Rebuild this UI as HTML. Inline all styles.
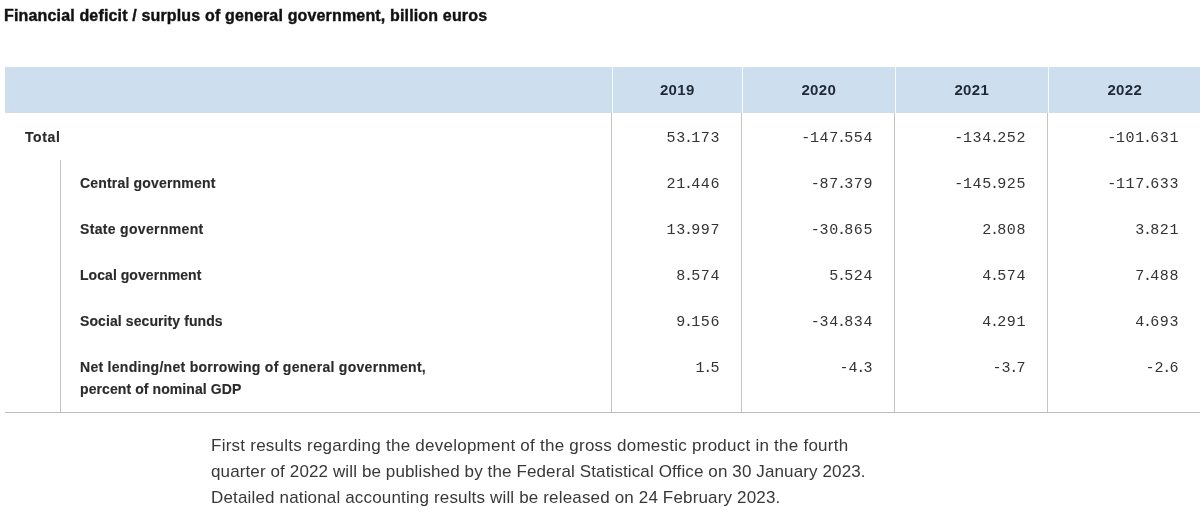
<!DOCTYPE html>
<html>
<head>
<meta charset="utf-8">
<style>
html,body{margin:0;padding:0;background:#fff;}
body{width:1203px;height:514px;position:relative;overflow:hidden;font-family:"Liberation Sans",sans-serif;}
.wrap{position:absolute;left:0;top:0;width:1203px;height:514px;will-change:transform;}
.a{position:absolute;white-space:nowrap;}
.title{left:4px;top:5px;font-weight:bold;font-size:16px;line-height:22px;color:#111;letter-spacing:0.16px;-webkit-text-stroke:0.4px #111;}
.hdr{left:5px;top:67px;width:1195px;height:46px;background:#cddfef;}
.hb{left:5px;top:112px;width:1195px;height:1px;background:#d3dce4;}
.wl{top:67px;width:1px;height:46px;background:#f4fbff;}
.gl{top:113px;width:1px;height:299px;background:#c4c4c4;}
.il{left:60px;top:160px;width:1px;height:252px;background:#c4c4c4;}
.bl{left:5px;top:412px;width:1195px;height:1px;background:#bdbdbd;}
.yr{top:80px;height:20px;line-height:20px;font-weight:bold;font-size:15px;color:#1f2a36;text-align:center;letter-spacing:0.3px;text-indent:1.5px;}
.lb{font-weight:bold;font-size:14px;line-height:22px;color:#2b2b2b;-webkit-text-stroke:0.15px #2b2b2b;}
.num{font-family:"Liberation Mono",monospace;font-size:15px;line-height:22px;color:#333;text-align:right;letter-spacing:0.6px;}
.num i{font-style:normal;margin-left:-1.8px;letter-spacing:-1.8px;}
.num b{font-weight:normal;letter-spacing:-0.2px;}
.ft{left:211px;font-size:17px;line-height:26px;color:#383838;}
</style>
</head>
<body>
<div class="wrap">
<div class="a title">Financial deficit / surplus of general government, billion euros</div>

<div class="a hdr"></div>
<div class="a hb"></div>
<div class="a wl" style="left:612px"></div>
<div class="a wl" style="left:742px"></div>
<div class="a wl" style="left:895px"></div>
<div class="a wl" style="left:1048px"></div>

<div class="a yr" style="left:612px;width:129px">2019</div>
<div class="a yr" style="left:742px;width:152px">2020</div>
<div class="a yr" style="left:895px;width:152px">2021</div>
<div class="a yr" style="left:1048px;width:152px">2022</div>

<div class="a gl" style="left:611px"></div>
<div class="a gl" style="left:741px"></div>
<div class="a gl" style="left:894px"></div>
<div class="a gl" style="left:1047px"></div>
<div class="a il"></div>
<div class="a bl"></div>

<!-- labels -->
<div class="a lb" style="left:25px;top:126px;letter-spacing:0.6px">Total</div>
<div class="a lb" style="left:80px;top:172px;letter-spacing:0.18px">Central government</div>
<div class="a lb" style="left:80px;top:218px;letter-spacing:0.33px">State government</div>
<div class="a lb" style="left:80px;top:264px;letter-spacing:0.05px">Local government</div>
<div class="a lb" style="left:80px;top:310px;letter-spacing:0.09px">Social security funds</div>
<div class="a lb" style="left:80px;top:356px;letter-spacing:0.29px">Net lending/net borrowing of general government,</div>
<div class="a lb" style="left:80px;top:378px;letter-spacing:0.085px">percent of nominal GDP</div>

<!-- numbers: right edges -->
<div class="a num" style="right:483px;top:128px">53<i>.</i>173</div>
<div class="a num" style="right:330px;top:128px"><b>-</b>147<i>.</i>554</div>
<div class="a num" style="right:177px;top:128px"><b>-</b>134<i>.</i>252</div>
<div class="a num" style="right:24px;top:128px"><b>-</b>101<i>.</i>631</div>

<div class="a num" style="right:483px;top:174px">21<i>.</i>446</div>
<div class="a num" style="right:330px;top:174px"><b>-</b>87<i>.</i>379</div>
<div class="a num" style="right:177px;top:174px"><b>-</b>145<i>.</i>925</div>
<div class="a num" style="right:24px;top:174px"><b>-</b>117<i>.</i>633</div>

<div class="a num" style="right:483px;top:220px">13<i>.</i>997</div>
<div class="a num" style="right:330px;top:220px"><b>-</b>30<i>.</i>865</div>
<div class="a num" style="right:177px;top:220px">2<i>.</i>808</div>
<div class="a num" style="right:24px;top:220px">3<i>.</i>821</div>

<div class="a num" style="right:483px;top:266px">8<i>.</i>574</div>
<div class="a num" style="right:330px;top:266px">5<i>.</i>524</div>
<div class="a num" style="right:177px;top:266px">4<i>.</i>574</div>
<div class="a num" style="right:24px;top:266px">7<i>.</i>488</div>

<div class="a num" style="right:483px;top:312px">9<i>.</i>156</div>
<div class="a num" style="right:330px;top:312px"><b>-</b>34<i>.</i>834</div>
<div class="a num" style="right:177px;top:312px">4<i>.</i>291</div>
<div class="a num" style="right:24px;top:312px">4<i>.</i>693</div>

<div class="a num" style="right:483px;top:358px">1<i>.</i>5</div>
<div class="a num" style="right:330px;top:358px"><b>-</b>4<i>.</i>3</div>
<div class="a num" style="right:177px;top:358px"><b>-</b>3<i>.</i>7</div>
<div class="a num" style="right:24px;top:358px"><b>-</b>2<i>.</i>6</div>

<div class="a ft" style="top:433px;letter-spacing:0.245px">First results regarding the development of the gross domestic product in the fourth</div>
<div class="a ft" style="top:459px;letter-spacing:0.12px">quarter of 2022 will be published by the Federal Statistical Office on 30 January 2023.</div>
<div class="a ft" style="top:485px;letter-spacing:0.16px">Detailed national accounting results will be released on 24 February 2023.</div>
</div>
</body>
</html>
